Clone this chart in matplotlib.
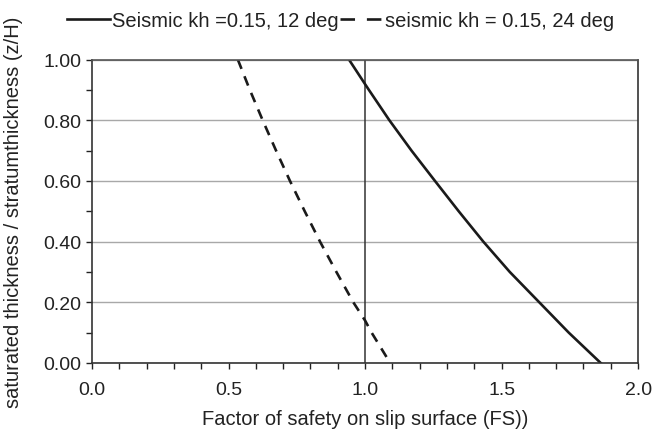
import numpy as np
import matplotlib.pyplot as plt
from matplotlib.lines import Line2D
from matplotlib.ticker import MultipleLocator

# saturated thickness ratio (z/H) vs factor of safety
z_12 = [1.00, 0.919, 0.90, 0.80, 0.70, 0.60, 0.50, 0.40, 0.30, 0.20, 0.10, 0.00]
fs_12 = [0.941, 1.00, 1.014, 1.089, 1.17, 1.256, 1.343, 1.433, 1.53, 1.638, 1.746, 1.863]

z_24 = [1.00, 0.90, 0.80, 0.70, 0.60, 0.50, 0.40, 0.30, 0.20, 0.14, 0.10, 0.00]
fs_24 = [0.534, 0.578, 0.625, 0.674, 0.725, 0.779, 0.835, 0.895, 0.957, 1.00, 1.024, 1.092]

label_12 = 'Seismic kh =0.15, 12 deg'
label_24 = 'seismic kh = 0.15, 24 deg'

plt.rcParams['font.family'] = ['Liberation Sans', 'DejaVu Sans']

fig = plt.figure(figsize=(6.54, 4.31), dpi=100)
ax = fig.add_axes([0.1407, 0.1555, 0.835, 0.704])

ax.plot(fs_12, z_12, color='#1a1a1a', lw=1.9)
ax.plot(fs_24, z_24, color='#1a1a1a', lw=1.9, ls=(0, (3.8, 3.0)))
ax.axvline(1.0, color='#333333', lw=1.1, zorder=1)

ax.set_xlim(0, 2.0)
ax.set_ylim(0, 1.0)
ax.xaxis.set_major_locator(MultipleLocator(0.5))
ax.xaxis.set_minor_locator(MultipleLocator(0.1))
ax.yaxis.set_major_locator(MultipleLocator(0.2))
ax.yaxis.set_minor_locator(MultipleLocator(0.1))
ax.xaxis.set_major_formatter(plt.FuncFormatter(lambda v, p: f'{v:.1f}'))
ax.yaxis.set_major_formatter(plt.FuncFormatter(lambda v, p: f'{v:.2f}'))
ax.grid(axis='y', which='major', color='#a8a8a8', lw=1.0)
ax.set_axisbelow(True)

ax.tick_params(which='both', direction='out', color='#222222', width=1.0,
               length=4, labelsize=14, labelcolor='#222222')
ax.tick_params(axis='x', which='major', pad=9)
for s in ax.spines.values():
    s.set_color('#333333')
    s.set_linewidth(1.2)
ax.spines['top'].set_color('#555555')

ax.set_xlabel('Factor of safety on slip surface (FS))', fontsize=14.5,
              color='#222222', labelpad=8)
ax.set_ylabel('saturated thickness / stratumthickness (z/H)', fontsize=14.5,
              color='#222222', labelpad=15)

# legend handles with longer dashes, as in the original key
handles = [Line2D([], [], color='#1a1a1a', lw=1.9),
           Line2D([], [], color='#1a1a1a', lw=1.9, ls=(0, (5.5, 4.5)))]
ax.legend(handles, [label_12, label_24], loc='lower center',
          bbox_to_anchor=(0.455, 1.05), ncol=2, frameon=False,
          fontsize=14.5, handlelength=2.1, handletextpad=0.1, columnspacing=0.1,
          borderaxespad=0.3, labelcolor='#222222')

fig.savefig('out.png', dpi=100)
